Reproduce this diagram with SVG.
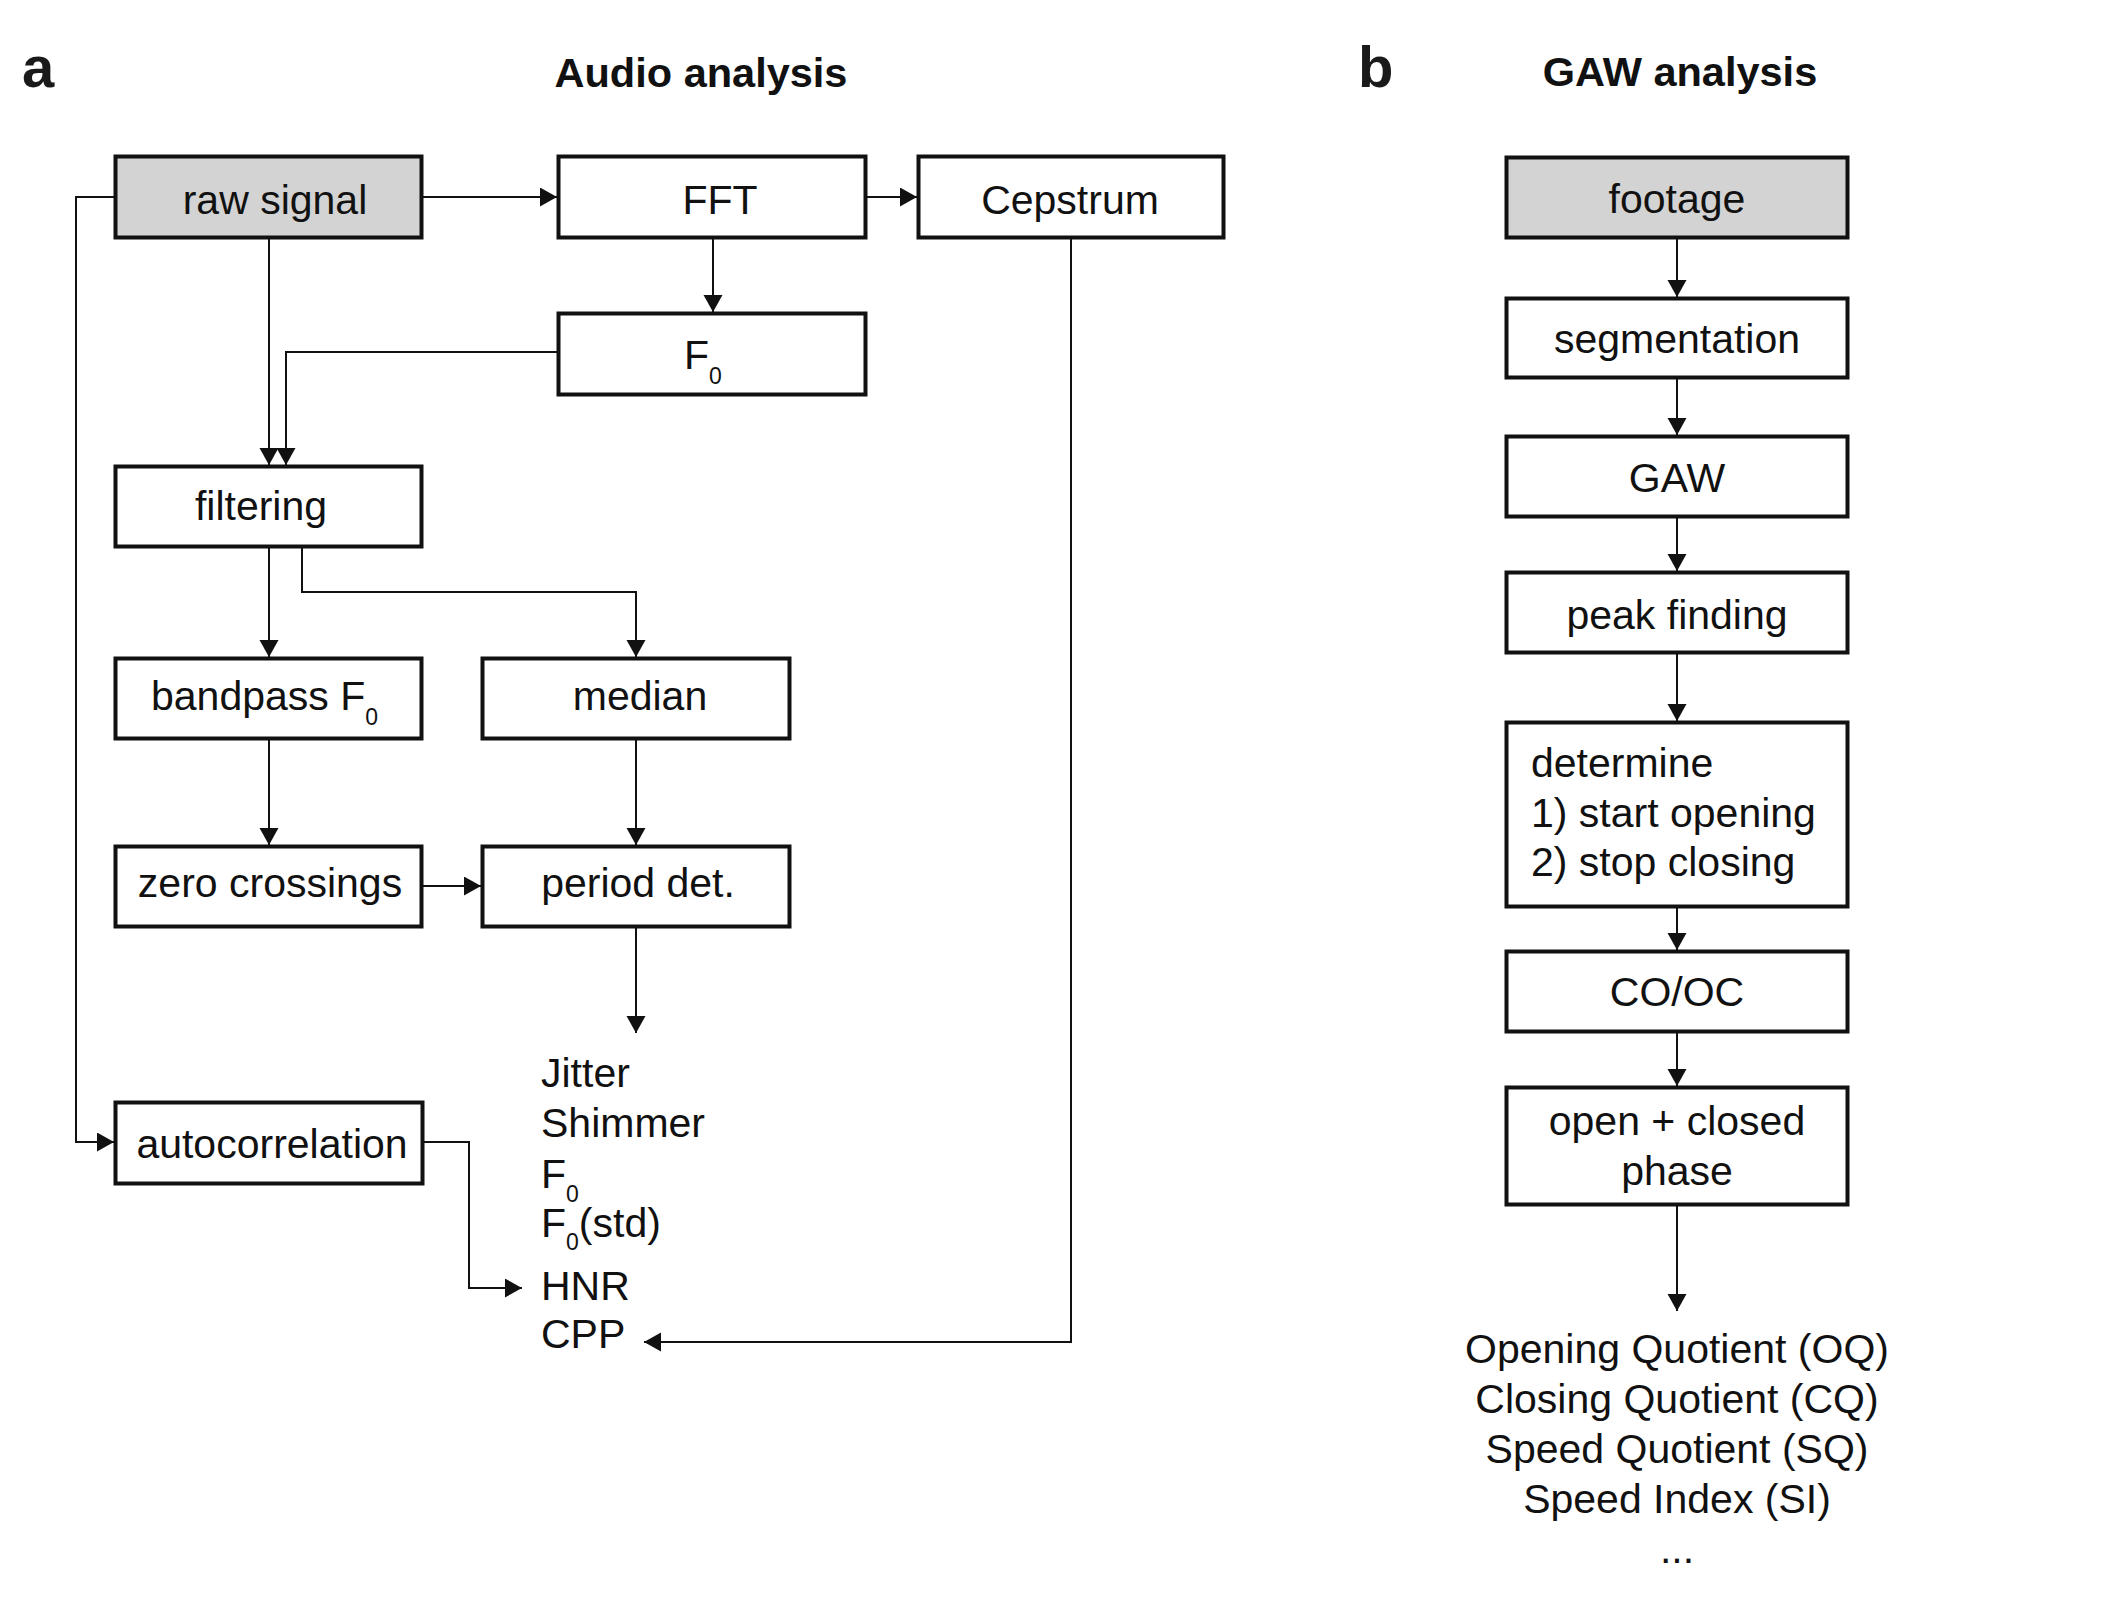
<svg xmlns="http://www.w3.org/2000/svg" width="2126" height="1603" viewBox="0 0 2126 1603">
<defs>
<marker id="ah" markerUnits="userSpaceOnUse" markerWidth="18" markerHeight="20" refX="17" refY="9.5" orient="auto">
<path d="M0,0 L17,9.5 L0,19 Z" fill="#111"/>
</marker>
<style>
.box{fill:#fff;stroke:#111;stroke-width:4}
.src{fill:#d3d3d3;stroke:#111;stroke-width:4}
.t{font-family:"Liberation Sans",Arial,sans-serif;font-size:41px;fill:#111}
.c{text-anchor:middle}
.sub{font-size:23px}
.h{font-family:"Liberation Sans",Arial,sans-serif;font-weight:bold;font-size:41.5px;fill:#111;text-anchor:middle}
.lab{font-family:"Liberation Sans",Arial,sans-serif;font-weight:bold;font-size:58px;fill:#1a1a1a}
.cn{fill:none;stroke:#111;stroke-width:2}
.ar{marker-end:url(#ah)}
</style>
</defs>
<rect width="2126" height="1603" fill="#fff"/>

<text class="lab" x="22" y="87">a</text>
<text class="h" x="701" y="87">Audio analysis</text>
<text class="lab" x="1358" y="87">b</text>
<text class="h" x="1680" y="86">GAW analysis</text>

<g id="connectors">
<path class="cn ar" d="M423,197 H557"/>
<path class="cn ar" d="M867,197 H917"/>
<path class="cn ar" d="M713,239 V312"/>
<path class="cn ar" d="M269,239 V465"/>
<path class="cn ar" d="M557,352 H286 V465"/>
<path class="cn ar" d="M114,197 H76 V1142 H114"/>
<path class="cn ar" d="M269,548 V657"/>
<path class="cn ar" d="M302,548 V592 H636 V657"/>
<path class="cn ar" d="M269,740 V845"/>
<path class="cn ar" d="M636,740 V845"/>
<path class="cn ar" d="M423,886 H481"/>
<path class="cn ar" d="M636,928 V1033"/>
<path class="cn ar" d="M424,1142 H469 V1288 H522"/>
<path class="cn ar" d="M1071,239 V1342 H644"/>
<path class="cn ar" d="M1677,239 V297"/>
<path class="cn ar" d="M1677,379 V435"/>
<path class="cn ar" d="M1677,518 V571"/>
<path class="cn ar" d="M1677,654 V721"/>
<path class="cn ar" d="M1677,908 V950"/>
<path class="cn ar" d="M1677,1033 V1086"/>
<path class="cn ar" d="M1677,1206 V1311"/>
</g>

<g id="raw-signal"><rect class="src" x="115.5" y="156.5" width="306" height="81"/><text class="t c" x="275" y="214">raw signal</text></g>
<g id="fft"><rect class="box" x="558.5" y="156.5" width="307" height="81"/><text class="t c" x="720" y="214">FFT</text></g>
<g id="cepstrum"><rect class="box" x="918.5" y="156.5" width="305" height="81"/><text class="t c" x="1070" y="214">Cepstrum</text></g>
<g id="f0"><rect class="box" x="558.5" y="313.5" width="307" height="81"/><text class="t" x="684" y="369">F<tspan class="sub" dy="15">0</tspan></text></g>
<g id="filtering"><rect class="box" x="115.5" y="466.5" width="306" height="80"/><text class="t c" x="261" y="520">filtering</text></g>
<g id="bandpass"><rect class="box" x="115.5" y="658.5" width="306" height="80"/><text class="t" x="151" y="710">bandpass F<tspan class="sub" dy="15">0</tspan></text></g>
<g id="median"><rect class="box" x="482.5" y="658.5" width="307" height="80"/><text class="t c" x="640" y="710">median</text></g>
<g id="zero-crossings"><rect class="box" x="115.5" y="846.5" width="306" height="80"/><text class="t c" x="270" y="897">zero crossings</text></g>
<g id="period-det"><rect class="box" x="482.5" y="846.5" width="307" height="80"/><text class="t c" x="638" y="897">period det.</text></g>
<g id="autocorrelation"><rect class="box" x="115.5" y="1102.5" width="307" height="81"/><text class="t c" x="272" y="1158">autocorrelation</text></g>

<g id="audio-results">
<text class="t" x="541" y="1087">Jitter</text>
<text class="t" x="541" y="1137">Shimmer</text>
<text class="t" x="541" y="1188">F<tspan class="sub" dy="14">0</tspan></text>
<text class="t" x="541" y="1237">F<tspan class="sub" dy="13">0</tspan><tspan dy="-13">(std)</tspan></text>
<text class="t" x="541" y="1300">HNR</text>
<text class="t" x="541" y="1348">CPP</text>
</g>

<g id="footage"><rect class="src" x="1506.5" y="157.5" width="341" height="80"/><text class="t c" x="1677" y="213">footage</text></g>
<g id="segmentation"><rect class="box" x="1506.5" y="298.5" width="341" height="79"/><text class="t c" x="1677" y="353">segmentation</text></g>
<g id="gaw"><rect class="box" x="1506.5" y="436.5" width="341" height="80"/><text class="t c" x="1677" y="492">GAW</text></g>
<g id="peak-finding"><rect class="box" x="1506.5" y="572.5" width="341" height="80"/><text class="t c" x="1677" y="629">peak finding</text></g>
<g id="determine"><rect class="box" x="1506.5" y="722.5" width="341" height="184"/>
<text class="t" x="1531" y="777">determine</text>
<text class="t" x="1531" y="827">1) start opening</text>
<text class="t" x="1531" y="876">2) stop closing</text></g>
<g id="co-oc"><rect class="box" x="1506.5" y="951.5" width="341" height="80"/><text class="t c" x="1677" y="1006">CO/OC</text></g>
<g id="open-closed"><rect class="box" x="1506.5" y="1087.5" width="341" height="117"/>
<text class="t c" x="1677" y="1135">open + closed</text>
<text class="t c" x="1677" y="1185">phase</text></g>

<g id="gaw-results">
<text class="t c" x="1677" y="1363">Opening Quotient (OQ)</text>
<text class="t c" x="1677" y="1413">Closing Quotient (CQ)</text>
<text class="t c" x="1677" y="1463">Speed Quotient (SQ)</text>
<text class="t c" x="1677" y="1513">Speed Index (SI)</text>
<text class="t c" x="1677" y="1563">...</text>
</g>
</svg>
